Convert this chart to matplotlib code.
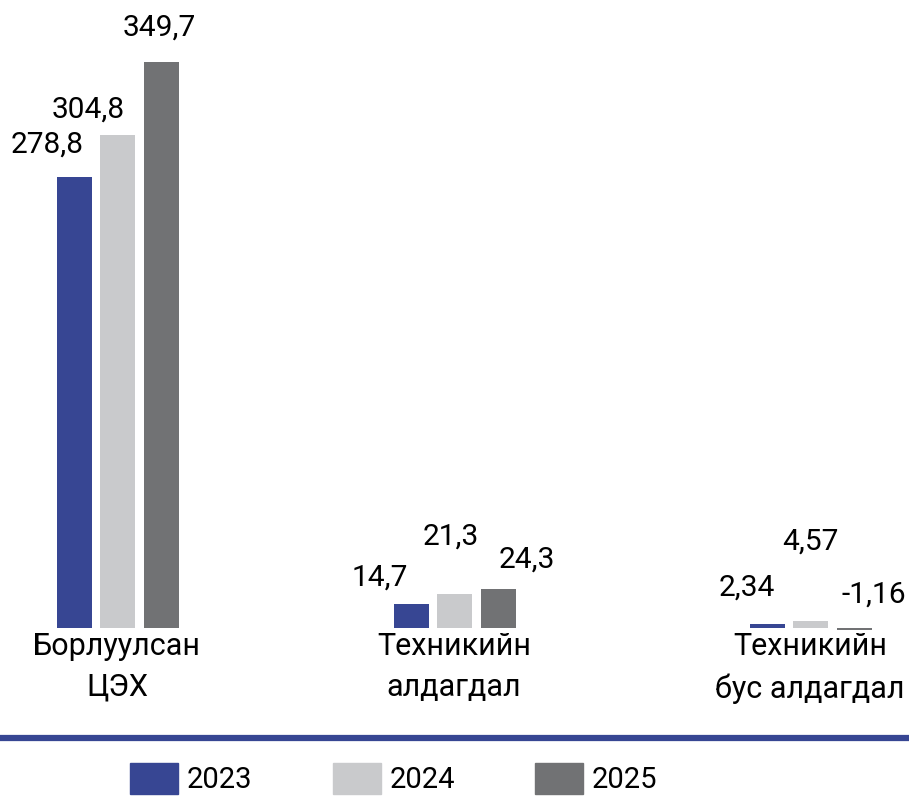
import matplotlib.pyplot as plt
import numpy as np
from matplotlib.lines import Line2D
from matplotlib.patches import Patch

plt.rcParams['font.family'] = ['Roboto', 'DejaVu Sans']

categories = ['Борлуулсан\nЦЭХ', 'Техникийн\nалдагдал', 'Техникийн\nбус алдагдал']
years = ['2023', '2024', '2025']
v2023 = [278.8, 14.7, 2.34]
v2024 = [304.8, 21.3, 4.57]
v2025 = [349.7, 24.3, -1.16]
labels2023 = ['278,8', '14,7', '2,34']
labels2024 = ['304,8', '21,3', '4,57']
labels2025 = ['349,7', '24,3', '-1,16']

colors = ['#374693', '#c9cacc', '#717274']

# layout (pixels)
W, H = 909, 796
fig = plt.figure(figsize=(W / 100, H / 100), dpi=100)
base_px = 628
px_per_unit = 566 / 349.7
ax = fig.add_axes([0, (H - base_px) / H, 1, base_px / H])
ax.set_ylim(0, base_px / px_per_unit)
unit = 337.0
ax.set_xlim(-117 / unit, (W - 117) / unit)

group_x = np.array([0, 1, 693 / unit])
offsets = [-43 / unit, 0, 44 / unit]
width = 35 / unit

# label offsets (pixels) relative to bar top
lab_off = [
    [(-27, 32), (-31, 27), (-20, 37)],
    [(-29, 25), (-3, 57), (0, 79)],
    [(-2, 34), (29, 29), (20, 33)],
]

series = [v2023, v2024, v2025]
texts = [labels2023, labels2024, labels2025]
for i, vals in enumerate(series):
    xs = group_x + offsets[i]
    ax.bar(xs, vals, width=width, color=colors[i], clip_on=False)
    for j, (x, v) in enumerate(zip(xs, vals)):
        dx, dy = lab_off[i][j]
        ax.annotate(texts[i][j], (x, max(v, 0)), xytext=(dx, dy),
                    textcoords='offset pixels', ha='center', va='center',
                    fontsize=21.5)

ax.set_xticks(group_x)
ax.set_xticklabels(categories, fontsize=22, linespacing=1.5)
ax.tick_params(axis='x', length=0, pad=3)
ax.set_yticks([])
for s in ax.spines.values():
    s.set_visible(False)

# blue separator line
fig.add_artist(Line2D([0, 1], [(H - 738) / H] * 2, color='#374693', lw=4.5,
                      transform=fig.transFigure))

handles = [Patch(color=c) for c in colors]
fig.legend(handles, years, loc='upper left', bbox_to_anchor=(130 / W, (H - 763) / H),
           ncol=3, frameon=False, fontsize=21, handlelength=1.65, handleheight=1.25,
           handletextpad=0.3, columnspacing=2.75, borderpad=0, borderaxespad=0)

fig.savefig('out.png', dpi=100)
